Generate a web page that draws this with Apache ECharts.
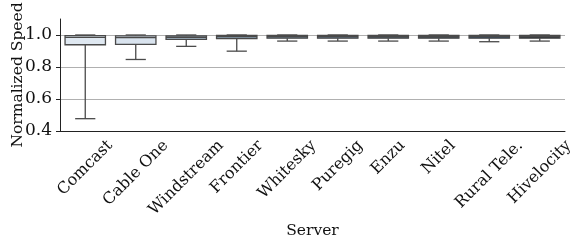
<!DOCTYPE html>
<html>
<head>
<meta charset="utf-8">
<script src="https://cdn.jsdelivr.net/npm/echarts@6/dist/echarts.min.js"></script>
<style>
  html, body { margin: 0; padding: 0; background: #fff; }
  #chart { width: 575px; height: 242px; }
</style>
</head>
<body>
<div id="chart"></div>
<script>
// servers on the x axis
const servers = ["Comcast", "Cable One", "Windstream", "Frontier", "Whitesky",
  "Puregig", "Enzu", "Nitel", "Rural Tele.", "Hivelocity"];
// box stats
const whiskerLow = [0.477, 0.847, 0.929, 0.899, 0.962, 0.962, 0.962, 0.962, 0.958, 0.962];
const q1 = [0.939, 0.942, 0.973, 0.977, 0.980, 0.980, 0.980, 0.980, 0.980, 0.980];
const median = [0.985, 0.984, 0.986, 0.990, 0.990, 0.991, 0.990, 0.990, 0.990, 0.991];
const q3 = [0.996, 0.995, 0.995, 0.998, 0.998, 0.998, 0.998, 0.998, 0.998, 0.998];
const whiskerHigh = [1.0, 1.0, 1.0, 1.0, 1.0, 1.0, 1.0, 1.0, 1.0, 1.0];
const boxColors = ["#dfe8f1", "#d9e3ee", "#a9bccc", "#8aa0b2", "#6d8395",
  "#5a6e80", "#4b5c6b", "#3e4c59", "#2f4a68", "#2b3138"];
const yTicks = [0.4, 0.6, 0.8, 1.0];
const yMin = 0.4;

const FONT = "DejaVu Serif";
const FS = 16;
const NAME_FS = 15.5;

let chart = echarts.init(document.getElementById("chart"));

const data = servers.map((s, i) => [i, whiskerLow[i], q1[i], median[i], q3[i], whiskerHigh[i]]);
const lineColor = "#4a4a4a";

// width of each server name, so the rotated label can sit centred under its tick
const ctx = document.createElement("canvas").getContext("2d");
ctx.font = FS + "px '" + FONT + "'";
const labelW = servers.map(s => ctx.measureText(s).width);

function renderBox(params, api) {
  const i = api.value(0);
  const bw = api.size([1, 0])[0] * 0.8;
  const lo = api.coord([i, api.value(1)]);
  const b1 = api.coord([i, api.value(2)]);
  const md = api.coord([i, api.value(3)]);
  const b3 = api.coord([i, api.value(4)]);
  const hi = api.coord([i, api.value(5)]);
  const base = api.coord([i, yMin]);
  const x = lo[0];
  const ln = { stroke: lineColor, lineWidth: 1.3 };
  return {
    type: "group",
    children: [
      { type: "line", shape: { x1: x, y1: lo[1], x2: x, y2: b1[1] }, style: ln },
      { type: "line", shape: { x1: x, y1: b3[1], x2: x, y2: hi[1] }, style: ln },
      { type: "line", shape: { x1: x - bw / 4, y1: lo[1], x2: x + bw / 4, y2: lo[1] }, style: ln },
      { type: "line", shape: { x1: x - bw / 4, y1: hi[1], x2: x + bw / 4, y2: hi[1] }, style: ln },
      {
        type: "rect",
        shape: { x: x - bw / 2, y: b3[1], width: bw, height: b1[1] - b3[1] },
        style: { fill: boxColors[i], stroke: lineColor, lineWidth: 1.3 }
      },
      { type: "line", shape: { x1: x - bw / 2, y1: md[1], x2: x + bw / 2, y2: md[1] }, style: ln },
      {
        type: "text",
        x: x,
        y: base[1] + 10 + (labelW[i] + 6) * 0.3536,
        rotation: Math.PI / 4,
        style: {
          text: servers[i], fontSize: FS, fontFamily: FONT, fill: "#111",
          align: "center", verticalAlign: "middle"
        }
      }
    ]
  };
}

chart.setOption({
  animation: false,
  textStyle: { fontFamily: FONT },
  grid: { left: 60, right: 10, top: 19, bottom: 111, outerBoundsMode: "none" },
  xAxis: {
    type: "category",
    data: servers,
    name: "Server",
    nameLocation: "middle",
    nameGap: 92,
    nameMoveOverlap: false,
    nameTextStyle: { fontSize: NAME_FS, color: "#111", fontFamily: FONT },
    axisLine: { lineStyle: { color: "#222", width: 1 } },
    axisTick: { alignWithLabel: true, length: 4, lineStyle: { color: "#222" } },
    axisLabel: { show: false },
    splitLine: { show: false }
  },
  yAxis: {
    type: "value",
    min: yMin,
    max: 1.1,
    interval: 0.2,
    name: "Normalized Speed",
    nameLocation: "middle",
    nameGap: 34,
    nameMoveOverlap: false,
    nameTextStyle: { fontSize: NAME_FS, color: "#111", fontFamily: FONT },
    axisLine: { show: true, lineStyle: { color: "#222", width: 1 } },
    axisTick: { show: true, length: 4, lineStyle: { color: "#222" } },
    axisLabel: {
      fontSize: 17, color: "#111", margin: 8, fontFamily: FONT,
      showMaxLabel: false,
      formatter: v => (yTicks.some(t => Math.abs(t - v) < 1e-6) ? v.toFixed(1) : "")
    },
    splitLine: { show: true, showMinLine: false, showMaxLine: false, lineStyle: { color: "#b0b0b0", width: 1 } }
  },
  series: [{
    type: "custom",
    renderItem: renderBox,
    encode: { x: 0, y: [1, 2, 3, 4, 5] },
    data: data,
    clip: false,
    z: 3
  }]
});
</script>
</body>
</html>
